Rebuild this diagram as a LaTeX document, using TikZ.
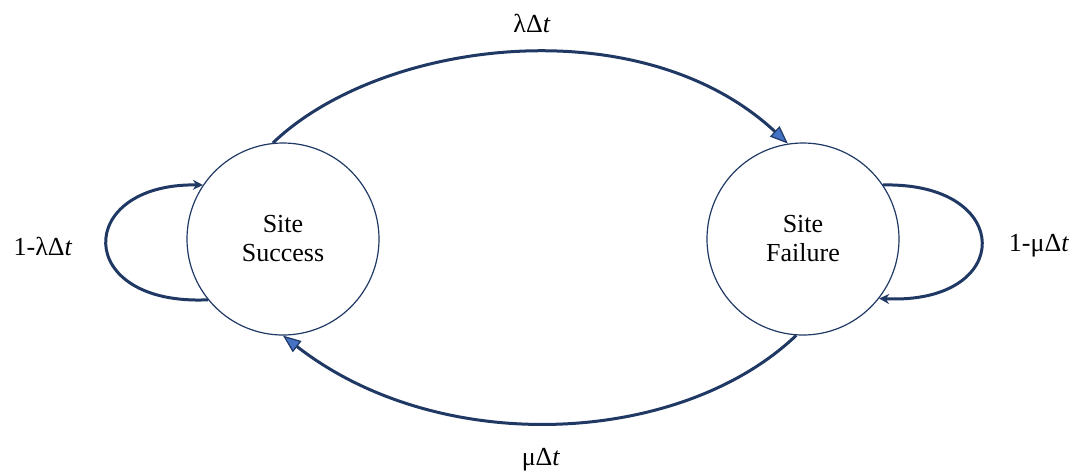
\documentclass[tikz,border=0pt]{standalone}
\usepackage{fontspec}
\setmainfont{Liberation Serif}
\usepackage{xcolor}
\usetikzlibrary{arrows.meta}

\definecolor{navy}{HTML}{1F3864}
\definecolor{arrowblue}{HTML}{4472C4}

\begin{document}
\begin{tikzpicture}[
    x=0.5pt, y=-0.5pt,
    font=\fontsize{13}{14.5}\selectfont,
    state/.style={draw=navy, line width=0.6pt, circle, minimum size=96pt,
                  inner sep=0pt, align=center},
    arr/.style={navy, line width=1.5pt,
                -{Triangle[length=9pt, width=7pt, fill=arrowblue, line width=0.6pt]}},
    selfarr/.style={navy, line width=1.5pt, -{Stealth[length=5pt, width=5pt]}}
  ]
  \useasboundingbox (0,0) rectangle (1078,473);

  \node[state] (success) at (283,239) {Site\\Success};
  \node[state] (failure) at (803,239) {Site\\Failure};

  \node (lam)     at (532,23)  {λΔ\textit{t}};
  \node (mu)      at (541,460) {μΔ\textit{t}};
  \node (stayok)  at (43,246)  {1-λΔ\textit{t}};
  \node (staybad) at (1039,246) {1-μΔ\textit{t}};

  % transitions between the two states
  \draw[arr] (success.96) .. controls (380,40) and (640,6) .. (failure.99);
  \draw[arr] (failure.266) .. controls (680,446) and (440,458) .. (success.270);

  % self loops
  \draw[selfarr] (success.219) .. controls (73,306) and (74,183) .. (success.146);
  \draw[selfarr] (failure.34) .. controls (1015,182) and (1015,305) .. (failure.322);
\end{tikzpicture}
\end{document}
